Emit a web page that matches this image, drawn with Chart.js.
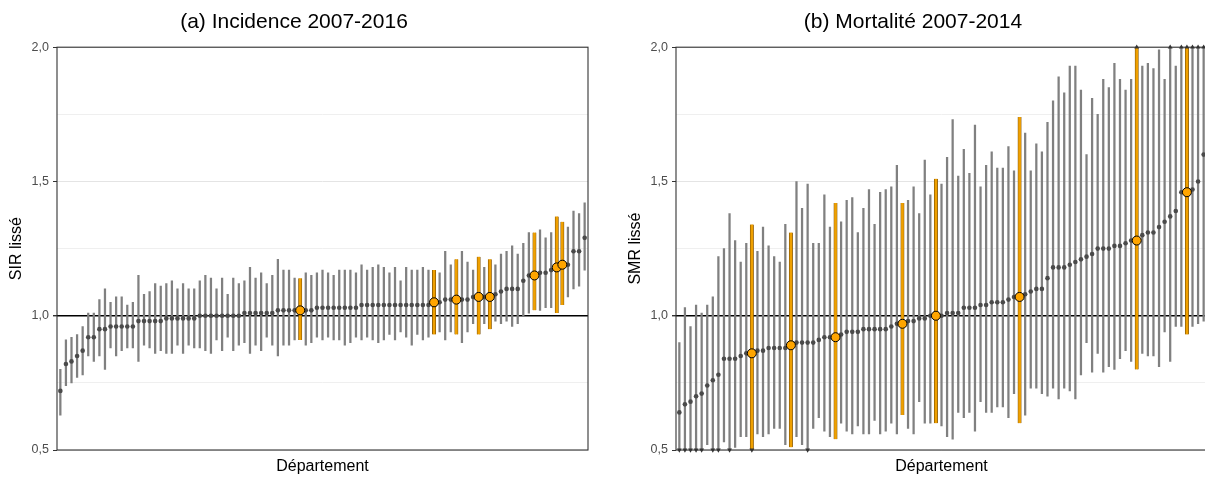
<!DOCTYPE html>
<html>
<head>
<meta charset="utf-8">
<script src="https://cdn.jsdelivr.net/npm/chart.js@4.4.1/dist/chart.umd.min.js"></script>
<style>
    html, body { margin: 0; padding: 0; background: #fff; overflow: hidden; width: 1205px; height: 477px; }
    canvas { position: absolute; top: 0; }
    #chartA { left: 0; }
    #chartB { left: 619px; }
</style>
</head>
<body>
<canvas id="chartA" width="603" height="477"></canvas>
<canvas id="chartB" width="603" height="477"></canvas>
<script>
// (a) Incidence 2007-2016 : SIR lissé par département, triés
const incEstimate = [
    0.72, 0.82, 0.83, 0.85, 0.87, 0.92, 0.92, 0.95, 0.95, 0.96,
    0.96, 0.96, 0.96, 0.96, 0.98, 0.98, 0.98, 0.98, 0.98, 0.99,
    0.99, 0.99, 0.99, 0.99, 0.99, 1.00, 1.00, 1.00, 1.00, 1.00,
    1.00, 1.00, 1.00, 1.01, 1.01, 1.01, 1.01, 1.01, 1.01, 1.02,
    1.02, 1.02, 1.02, 1.02, 1.02, 1.02, 1.03, 1.03, 1.03, 1.03,
    1.03, 1.03, 1.03, 1.03, 1.04, 1.04, 1.04, 1.04, 1.04, 1.04,
    1.04, 1.04, 1.04, 1.04, 1.04, 1.04, 1.04, 1.05, 1.05, 1.06,
    1.06, 1.06, 1.06, 1.06, 1.07, 1.07, 1.07, 1.07, 1.08, 1.09,
    1.10, 1.10, 1.10, 1.13, 1.15, 1.15, 1.16, 1.16, 1.17, 1.18,
    1.19, 1.19, 1.24, 1.24, 1.29
];
const incLower = [
    0.63, 0.74, 0.75, 0.77, 0.78, 0.85, 0.83, 0.85, 0.80, 0.88,
    0.85, 0.87, 0.88, 0.88, 0.83, 0.89, 0.88, 0.86, 0.87, 0.86,
    0.86, 0.89, 0.86, 0.89, 0.88, 0.88, 0.87, 0.86, 0.91, 0.87,
    0.92, 0.87, 0.89, 0.90, 0.86, 0.89, 0.87, 0.92, 0.89, 0.85,
    0.89, 0.89, 0.91, 0.91, 0.89, 0.90, 0.92, 0.91, 0.92, 0.91,
    0.91, 0.89, 0.90, 0.92, 0.91, 0.92, 0.91, 0.90, 0.91, 0.93,
    0.91, 0.94, 0.92, 0.89, 0.93, 0.91, 0.92, 0.93, 0.94, 0.91,
    0.94, 0.93, 0.90, 0.94, 0.97, 0.93, 0.97, 0.95, 0.98, 0.97,
    0.98, 0.96, 0.97, 1.00, 1.01, 1.02, 1.02, 1.03, 1.03, 1.01,
    1.04, 1.07, 1.10, 1.11, 1.17
];
const incUpper = [
    0.80, 0.91, 0.92, 0.93, 0.96, 1.01, 1.01, 1.06, 1.10, 1.05,
    1.07, 1.07, 1.04, 1.05, 1.15, 1.08, 1.09, 1.12, 1.11, 1.12,
    1.13, 1.10, 1.12, 1.10, 1.10, 1.13, 1.15, 1.14, 1.10, 1.14,
    1.08, 1.14, 1.12, 1.13, 1.18, 1.14, 1.16, 1.12, 1.15, 1.21,
    1.17, 1.17, 1.14, 1.14, 1.16, 1.15, 1.16, 1.17, 1.16, 1.15,
    1.17, 1.17, 1.17, 1.16, 1.19, 1.17, 1.18, 1.19, 1.18, 1.16,
    1.18, 1.13, 1.18, 1.17, 1.17, 1.18, 1.17, 1.17, 1.16, 1.24,
    1.19, 1.21, 1.24, 1.20, 1.17, 1.22, 1.18, 1.21, 1.19, 1.23,
    1.24, 1.26, 1.23, 1.27, 1.31, 1.31, 1.32, 1.29, 1.31, 1.37,
    1.35, 1.33, 1.39, 1.38, 1.42
];
const incHighlight = [44, 68, 72, 76, 78, 86, 90, 91];

// (b) Mortalité 2007-2014 : SMR lissé par département, triés
const morEstimate = [
    0.64, 0.67, 0.68, 0.70, 0.71, 0.74, 0.76, 0.78, 0.84, 0.84,
    0.84, 0.85, 0.86, 0.86, 0.87, 0.87, 0.88, 0.88, 0.88, 0.88,
    0.89, 0.90, 0.90, 0.90, 0.90, 0.91, 0.92, 0.92, 0.92, 0.93,
    0.94, 0.94, 0.94, 0.95, 0.95, 0.95, 0.95, 0.95, 0.96, 0.97,
    0.97, 0.98, 0.98, 0.99, 0.99, 1.00, 1.00, 1.00, 1.01, 1.01,
    1.01, 1.03, 1.03, 1.03, 1.04, 1.04, 1.05, 1.05, 1.05, 1.06,
    1.07, 1.07, 1.08, 1.09, 1.10, 1.10, 1.14, 1.18, 1.18, 1.18,
    1.19, 1.20, 1.21, 1.22, 1.23, 1.25, 1.25, 1.25, 1.26, 1.26,
    1.27, 1.28, 1.28, 1.30, 1.31, 1.31, 1.33, 1.35, 1.37, 1.39,
    1.46, 1.46, 1.47, 1.50, 1.60
];
const morLower = [
    0.45, 0.45, 0.45, 0.45, 0.45, 0.52, 0.45, 0.45, 0.53, 0.45,
    0.51, 0.55, 0.55, 0.45, 0.56, 0.55, 0.56, 0.58, 0.58, 0.52,
    0.51, 0.55, 0.52, 0.45, 0.58, 0.62, 0.57, 0.55, 0.54, 0.60,
    0.57, 0.56, 0.59, 0.56, 0.56, 0.61, 0.56, 0.57, 0.60, 0.56,
    0.63, 0.58, 0.56, 0.68, 0.60, 0.60, 0.60, 0.59, 0.55, 0.54,
    0.64, 0.62, 0.64, 0.57, 0.68, 0.64, 0.64, 0.66, 0.66, 0.62,
    0.71, 0.60, 0.63, 0.73, 0.73, 0.71, 0.70, 0.73, 0.69, 0.73,
    0.72, 0.69, 0.78, 0.90, 0.79, 0.86, 0.79, 0.81, 0.80, 0.84,
    0.87, 0.83, 0.80, 0.86, 0.85, 0.85, 0.81, 0.94, 0.83, 0.96,
    0.96, 0.93, 0.96, 0.97, 0.98
];
const morUpper = [
    0.90, 1.03, 0.96, 1.04, 1.01, 1.04, 1.07, 1.22, 1.25, 1.38,
    1.28, 1.20, 1.27, 1.34, 1.24, 1.33, 1.26, 1.22, 1.20, 1.34,
    1.31, 1.50, 1.40, 1.49, 1.27, 1.27, 1.45, 1.33, 1.42, 1.35,
    1.43, 1.44, 1.31, 1.40, 1.47, 1.34, 1.46, 1.47, 1.48, 1.56,
    1.42, 1.43, 1.48, 1.38, 1.58, 1.45, 1.51, 1.49, 1.59, 1.73,
    1.52, 1.62, 1.53, 1.71, 1.48, 1.56, 1.61, 1.55, 1.55, 1.63,
    1.54, 1.74, 1.68, 1.54, 1.64, 1.61, 1.72, 1.80, 1.89, 1.83,
    1.93, 1.93, 1.84, 1.60, 1.81, 1.75, 1.88, 1.85, 1.94, 1.88,
    1.84, 1.88, 2.10, 1.93, 1.94, 1.92, 1.99, 1.88, 2.10, 1.93,
    2.10, 2.10, 2.10, 2.10, 2.10
];
const morHighlight = [14, 21, 29, 41, 47, 62, 83, 92];

const yTicks = [0.5, 1.0, 1.5, 2.0];

const FONT = '"Liberation Sans", Arial, Helvetica, sans-serif';
const Y_MIN = yTicks[0];
const Y_MAX = yTicks[yTicks.length - 1];

// panel border drawn on top of the data
const panelBorder = {
    id: 'panelBorder',
    afterDatasetsDraw(chart) {
        const a = chart.chartArea;
        const ctx = chart.ctx;
        ctx.save();
        ctx.strokeStyle = '#333333';
        ctx.lineWidth = 1.1;
        ctx.strokeRect(a.left, a.top, a.right - a.left, a.bottom - a.top);
        ctx.restore();
    }
};

function isMajor(v) {
    return yTicks.some(t => Math.abs(t - v) < 1e-6);
}

function buildPanel(canvasId, title, yTitle, est, lo, hi, highlight) {
    const idx = est.map((_, i) => i + 1);
    const normal = idx.filter(i => !highlight.includes(i));

    const grayBars = normal.map(i => ({ x: i, y: [lo[i - 1], hi[i - 1]] }));
    const orangeBars = highlight.map(i => ({ x: i, y: [lo[i - 1], hi[i - 1]] }));
    const grayPts = normal.map(i => ({ x: i, y: est[i - 1] }));
    const orangePts = highlight.map(i => ({ x: i, y: est[i - 1] }));
    const downArrows = idx.filter(i => lo[i - 1] < Y_MIN).map(i => ({ x: i, y: Y_MIN }));
    const upArrows = idx.filter(i => hi[i - 1] > Y_MAX).map(i => ({ x: i, y: Y_MAX }));

    const ctx = document.getElementById(canvasId).getContext('2d');
    return new Chart(ctx, {
        type: 'bar',
        data: {
            datasets: [
                {
                    type: 'bar', data: grayBars, order: 6, grouped: false, clip: 0,
                    barThickness: 1.6, backgroundColor: '#808080', borderWidth: 0
                },
                {
                    type: 'bar', data: orangeBars, order: 5, grouped: false, clip: 0,
                    barThickness: 3.4, backgroundColor: '#EFA000',
                    borderColor: '#7a4d00', borderSkipped: false,
                    borderWidth: { left: 0.7, right: 0.7, top: 0, bottom: 0 }
                },
                {
                    type: 'scatter', data: grayPts, order: 4,
                    pointRadius: 2.3, pointBackgroundColor: '#4a4a4a', pointBorderWidth: 0
                },
                {
                    type: 'scatter', data: downArrows, order: 3, clip: false,
                    pointStyle: 'triangle', rotation: 180, pointRadius: 2.8,
                    pointBackgroundColor: '#333333', pointBorderWidth: 0
                },
                {
                    type: 'scatter', data: upArrows, order: 3, clip: false,
                    pointStyle: 'triangle', pointRadius: 2.8,
                    pointBackgroundColor: '#333333', pointBorderWidth: 0
                },
                {
                    type: 'scatter', data: orangePts, order: 1,
                    pointRadius: 4.5, pointBackgroundColor: '#FFA500',
                    pointBorderColor: '#000000', pointBorderWidth: 1
                }
            ]
        },
        options: {
            responsive: false,
            animation: false,
            events: [],
            layout: { padding: { left: 0, right: 15, top: 0, bottom: 0 } },
            plugins: {
                legend: { display: false },
                tooltip: { enabled: false },
                title: {
                    display: true,
                    text: title,
                    color: '#000000',
                    font: { family: FONT, size: 21, weight: 'normal' },
                    padding: { top: 10, bottom: 12 }
                }
            },
            scales: {
                x: {
                    type: 'linear',
                    min: 0.4,
                    max: est.length + 0.6,
                    offset: false,
                    grid: { display: false },
                    border: { display: false },
                    ticks: { display: false },
                    title: {
                        display: true,
                        text: 'Département',
                        color: '#000000',
                        font: { family: FONT, size: 16 },
                        padding: { top: 0, bottom: 1 }
                    },
                    afterFit: (scale) => { scale.height = 27; }
                },
                y: {
                    min: Y_MIN,
                    max: Y_MAX,
                    border: { display: false },
                    ticks: {
                        stepSize: 0.25,
                        color: '#4d4d4d',
                        font: { family: FONT, size: 12.5 },
                        padding: 4,
                        callback: (v) => isMajor(v) ? v.toFixed(1).replace('.', ',') : ''
                    },
                    grid: {
                        drawTicks: true,
                        tickLength: 4,
                        color: (c) => Math.abs(c.tick.value - 1) < 1e-6 ? '#000000'
                            : (isMajor(c.tick.value) ? '#e4e4e4' : '#efefef'),
                        lineWidth: (c) => Math.abs(c.tick.value - 1) < 1e-6 ? 1.4 : 1,
                        tickColor: (c) => isMajor(c.tick.value) ? '#333333' : 'rgba(0,0,0,0)'
                    },
                    title: {
                        display: true,
                        text: yTitle,
                        color: '#000000',
                        font: { family: FONT, size: 16 },
                        padding: { top: 7, bottom: 0 }
                    },
                    afterFit: (scale) => { scale.width = 57; }
                }
            }
        },
        plugins: [panelBorder]
    });
}

buildPanel('chartA', '(a) Incidence 2007-2016', 'SIR lissé',
    incEstimate, incLower, incUpper, incHighlight);
buildPanel('chartB', '(b) Mortalité 2007-2014', 'SMR lissé',
    morEstimate, morLower, morUpper, morHighlight);
</script>
</body>
</html>
